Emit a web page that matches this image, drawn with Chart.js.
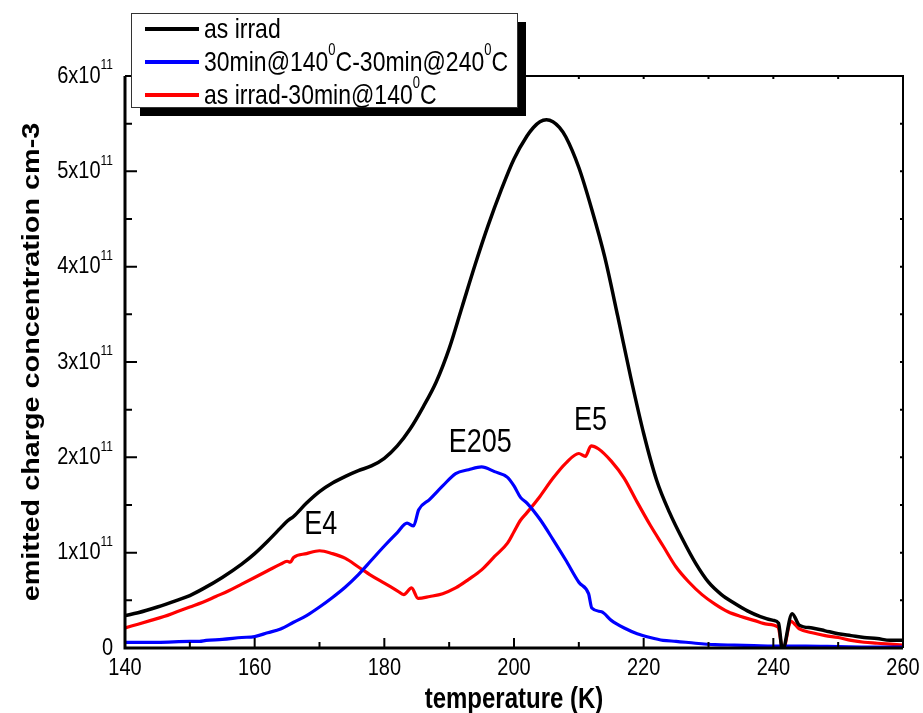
<!DOCTYPE html>
<html>
<head>
<meta charset="utf-8">
<script src="https://cdn.jsdelivr.net/npm/chart.js@4.4.1/dist/chart.umd.min.js"></script>
<style>
  body { margin: 0; background: #fff; }
  canvas { display: block; }
</style>
</head>
<body>
<canvas id="grafico" width="923" height="713"></canvas>
<script>
// values in units of 10^11 cm-3
const UNIT = 1e11;

const irradT = [140, 142, 145, 148, 150, 152, 155, 158, 160, 162, 164, 165, 166, 168, 170, 172, 174, 176, 178, 180,
  182, 184, 186, 188, 190, 192, 194, 196, 198, 200, 202, 203, 204, 205, 206, 207, 208, 210, 212, 214, 216, 218, 220, 222, 224,
  226, 228, 230, 232, 234, 236, 238, 240, 240.8, 241.4, 242.9, 244, 246, 248, 250, 252, 254, 256, 258, 260];
const irradV = [0.34, 0.37, 0.43, 0.50, 0.55, 0.62, 0.74, 0.88, 0.99, 1.12, 1.26, 1.33, 1.38, 1.52, 1.64, 1.73, 1.80, 1.86, 1.91, 1.99,
  2.12, 2.30, 2.53, 2.79, 3.14, 3.58, 4.02, 4.43, 4.80, 5.13, 5.37, 5.46, 5.52, 5.54, 5.52, 5.46, 5.36, 5.04, 4.60, 4.10, 3.48, 2.84, 2.25, 1.76, 1.42,
  1.14, 0.89, 0.69, 0.56, 0.47, 0.39, 0.33, 0.29, 0.26, -0.02, 0.36, 0.24, 0.21, 0.18, 0.15, 0.13, 0.11, 0.10, 0.08, 0.08];

const annealT = [140, 145, 150, 151.5, 152.5, 155, 158, 160, 162, 164, 166, 168, 170, 172, 174, 176, 178, 180, 182, 183.5,
  184.5, 185.3, 187, 189, 191, 193, 195, 197, 199, 200, 201, 202, 204, 206, 208, 210, 211.5, 212, 213.5, 215, 217, 219,
  221, 223, 225, 228, 231, 234, 237, 240, 245, 250, 255, 260];
const annealV = [0.06, 0.06, 0.07, 0.07, 0.08, 0.09, 0.11, 0.12, 0.16, 0.20, 0.27, 0.34, 0.43, 0.53, 0.64, 0.77, 0.92, 1.07, 1.21, 1.31,
  1.28, 1.45, 1.56, 1.70, 1.83, 1.87, 1.90, 1.85, 1.79, 1.70, 1.58, 1.52, 1.35, 1.14, 0.92, 0.69, 0.57, 0.42, 0.38, 0.29, 0.21, 0.15,
  0.11, 0.08, 0.07, 0.05, 0.035, 0.03, 0.025, 0.02, 0.02, 0.015, 0.01, 0.01];

const irrad140T = [140, 142, 144, 146, 148, 150, 152, 154, 156, 158, 160, 162, 164, 165, 165.5, 166, 168, 170, 172, 174,
  176, 178, 180, 182, 183, 184.2, 185.2, 187, 189, 191, 193, 195, 197, 199, 200, 201, 202, 204, 206, 208, 210, 211,
  211.9, 213, 215, 217, 219, 221, 223, 225, 227, 229, 231, 233, 235, 237, 239, 240.7, 241.5, 242.7, 244, 246, 248,
  250, 252, 254, 256, 258, 260];
const irrad140V = [0.21, 0.25, 0.29, 0.33, 0.38, 0.43, 0.48, 0.54, 0.60, 0.67, 0.74, 0.81, 0.88, 0.91, 0.90, 0.95, 0.99, 1.02, 0.99, 0.94,
  0.85, 0.76, 0.68, 0.60, 0.56, 0.63, 0.52, 0.54, 0.57, 0.63, 0.72, 0.82, 0.96, 1.10, 1.22, 1.34, 1.42, 1.59, 1.78, 1.94, 2.04, 2.01,
  2.12, 2.09, 1.96, 1.78, 1.53, 1.29, 1.07, 0.85, 0.69, 0.56, 0.46, 0.38, 0.33, 0.29, 0.25, 0.22, -0.02, 0.28, 0.20, 0.16, 0.13,
  0.11, 0.08, 0.06, 0.05, 0.04, 0.03];

const xTicks = [140, 160, 180, 200, 220, 240, 260];
const yTicks = [0, 1, 2, 3, 4, 5, 6];

const legendItems = [
  { color: "#000000", parts: [["as irrad"]] },
  { color: "#0000ff", parts: [["30min@140"], ["0", true], ["C-30min@240"], ["0", true], ["C"]] },
  { color: "#ff0000", parts: [["as irrad-30min@140"], ["0", true], ["C"]] }
];
const peakLabels = [
  { text: "E4", x: 170.2, y: 1.29 },
  { text: "E205", x: 194.8, y: 2.15 },
  { text: "E5", x: 211.8, y: 2.38 }
];

const FONT = "'Liberation Sans', Arial, sans-serif";
const SY = 1.2; // the text in the picture is a bit taller than wide

function texto(ctx, s, x, y) {
  ctx.save();
  ctx.translate(x, y);
  ctx.scale(1, SY);
  ctx.fillText(s, 0, 0);
  ctx.restore();
}

// draws text with superscript pieces, returns width
function textoRico(ctx, parts, x, y, size, supSize, draw) {
  let w = 0;
  parts.forEach(p => {
    ctx.font = (p[1] ? supSize : size) + "px " + FONT;
    if (draw) texto(ctx, p[0], x + w, p[1] ? y - size * 0.45 * SY : y);
    w += ctx.measureText(p[0]).width;
  });
  return w;
}

const desenho = {
  id: "desenho",
  afterDraw(chart) {
    const ctx = chart.ctx;
    const xs = chart.scales.x, ys = chart.scales.y;
    const a = chart.chartArea;
    ctx.save();
    ctx.fillStyle = "#000";
    ctx.strokeStyle = "#000";

    // frame
    ctx.lineWidth = 2;
    ctx.beginPath();
    ctx.moveTo(a.left, a.top); ctx.lineTo(a.right, a.top); ctx.lineTo(a.right, a.bottom);
    ctx.stroke();
    ctx.lineWidth = 3;
    ctx.beginPath();
    ctx.moveTo(a.left, a.top); ctx.lineTo(a.left, a.bottom); ctx.lineTo(a.right, a.bottom);
    ctx.stroke();

    // ticks
    ctx.lineWidth = 2;
    ctx.beginPath();
    for (let t = 140; t <= 260; t += 10) {
      const px = xs.getPixelForValue(t);
      const len = (t % 20 === 0) ? 10 : 6;
      ctx.moveTo(px, a.bottom); ctx.lineTo(px, a.bottom - len);
      ctx.moveTo(px, a.top); ctx.lineTo(px, a.top + 3);
    }
    for (let v = 0; v <= 6; v += 0.5) {
      const py = ys.getPixelForValue(v * UNIT);
      const len = Number.isInteger(v) ? 12 : 7;
      ctx.moveTo(a.left, py); ctx.lineTo(a.left + len, py);
      ctx.moveTo(a.right, py); ctx.lineTo(a.right - 3, py);
    }
    ctx.stroke();

    // tick labels
    ctx.textBaseline = "middle";
    ctx.textAlign = "center";
    ctx.font = "20px " + FONT;
    xTicks.forEach(t => texto(ctx, String(t), xs.getPixelForValue(t), a.bottom + 20));

    ctx.textAlign = "left";
    yTicks.forEach(v => {
      const py = ys.getPixelForValue(v * UNIT);
      const parts = v === 0 ? [["0"]] : [[v + "x10"], ["11", true]];
      const w = textoRico(ctx, parts, 0, 0, 20, 12, false);
      textoRico(ctx, parts, a.left - 12 - w, py, 20, 12, true);
    });

    // axis titles
    ctx.font = "bold 24px " + FONT;
    ctx.textAlign = "center";
    texto(ctx, "temperature (K)", (a.left + a.right) / 2, a.bottom + 52);
    ctx.save();
    ctx.translate(32, (a.top + a.bottom) / 2);
    ctx.rotate(-Math.PI / 2);
    ctx.scale(SY, 1);
    ctx.fillText("emitted charge concentration cm-3", 0, 0);
    ctx.restore();

    // peak labels
    ctx.font = "27px " + FONT;
    peakLabels.forEach(p => texto(ctx, p.text, xs.getPixelForValue(p.x), ys.getPixelForValue(p.y * UNIT)));

    // legend with shadow
    const lx = 131, ly = 13, lw = 386, lh = 94;
    ctx.fillRect(lx + 9, ly + 9, lw, lh);
    ctx.fillStyle = "#fff";
    ctx.fillRect(lx, ly, lw, lh);
    ctx.lineWidth = 1;
    ctx.strokeStyle = "#333";
    ctx.strokeRect(lx + 0.5, ly + 0.5, lw, lh);
    ctx.textAlign = "left";
    legendItems.forEach((it, i) => {
      const yy = 29 + i * 33;
      ctx.strokeStyle = it.color;
      ctx.lineWidth = 4;
      ctx.beginPath();
      ctx.moveTo(145, yy); ctx.lineTo(199, yy);
      ctx.stroke();
      ctx.fillStyle = "#000";
      textoRico(ctx, it.parts, 204, yy + 1, 23, 13, true);
    });

    ctx.restore();
  }
};

const ctx = document.getElementById("grafico").getContext("2d");
new Chart(ctx, {
  type: "line",
  data: {
    datasets: [
      { label: "as irrad", data: pontos(irradT, irradV), borderColor: "#000000", borderWidth: 3.5 },
      { label: "30min@140°C-30min@240°C", data: pontos(annealT, annealV), borderColor: "#0000ff" },
      { label: "as irrad-30min@140°C", data: pontos(irrad140T, irrad140V), borderColor: "#ff0000" }
    ]
  },
  options: {
    responsive: false,
    animation: false,
    devicePixelRatio: 1,
    layout: { padding: { top: 76, right: 20, left: 0, bottom: 0 } },
    elements: {
      point: { radius: 0 },
      line: { borderWidth: 3.2, cubicInterpolationMode: "monotone", fill: false, borderJoinStyle: "round", borderCapStyle: "round" }
    },
    plugins: { legend: { display: false }, tooltip: { enabled: false } },
    scales: {
      x: {
        type: "linear", min: 140, max: 260,
        ticks: { display: false }, grid: { display: false }, border: { display: false },
        afterFit: s => { s.height = 65; }
      },
      y: {
        min: 0, max: 6 * UNIT,
        ticks: { display: false }, grid: { display: false }, border: { display: false },
        afterFit: s => { s.width = 125; }
      }
    }
  },
  plugins: [desenho]
});

function pontos(ts, vs) {
  return ts.map((t, i) => ({ x: t, y: vs[i] * UNIT }));
}
</script>
</body>
</html>
